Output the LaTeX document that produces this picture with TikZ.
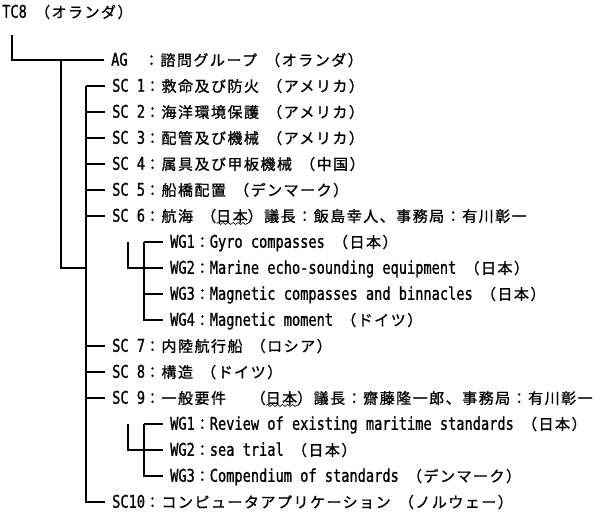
\documentclass[tikz,border=0pt]{standalone}
\usepackage{fontspec}
\usetikzlibrary{decorations.pathmorphing}
\newfontfamily\jpfont[LetterSpace=10,FakeBold=1]{Noto Sans CJK JP}
\newfontfamily\latfont[FakeStretch=0.78,FakeBold=1]{DejaVu Sans Mono}
\def\la#1{{\latfont\fontsize{17.5}{18}\selectfont #1}}
\def\hs{\hspace{8.2pt}}
\def\lbl#1{\makebox[32.8pt][l]{\la{#1}}：}
\def\wlbl#1{\makebox[24.6pt][l]{\la{#1}}：}
\def\wav#1{\setbox0\hbox{#1}\rlap{\raisebox{-3pt}{\tikz\draw[line width=0.6pt,decorate,decoration={snake,amplitude=1pt,segment length=5pt}] (0,0) -- (\wd0,0);}}\box0}
\tikzset{
	row/.style={anchor=west, inner xsep=7pt, inner ysep=0pt, text height=11.5pt, text depth=0pt, font=\jpfont\fontsize{15}{18}\selectfont},
	tree/.style={line width=1.1pt}
}

\begin{document}
\begin{tikzpicture}[x=1pt,y=-1pt]
		%%%%% START %%%%%
		\useasboundingbox (0,0) rectangle (600,516);
		
		\node[row, inner xsep=0pt] (tc8) at (2,12) {\la{TC8}\hs（オランダ）};
		\node[row] (ag) at (104,60) {\lbl{AG}諮問グループ\hs（オランダ）};
		
		\node[row] (sc1) at (105,86) {\lbl{SC 1}救命及び防火\hs（アメリカ）};
		\node[row] (sc2) at (105,112) {\lbl{SC 2}海洋環境保護\hs（アメリカ）};
		\node[row] (sc3) at (105,138) {\lbl{SC 3}配管及び機械\hs（アメリカ）};
		\node[row] (sc4) at (105,164) {\lbl{SC 4}属具及び甲板機械\hs（中国）};
		\node[row] (sc5) at (105,190) {\lbl{SC 5}船橋配置\hs（デンマーク）};
		\node[row] (sc6) at (105,216) {\lbl{SC 6}航海\hs（\wav{日本}）議長：飯島幸人、事務局：有川彰一};
		
		\node[row] (wg61) at (163,242) {\wlbl{WG1}\la{Gyro compasses}\hs（日本）};
		\node[row] (wg62) at (163,268) {\wlbl{WG2}\la{Marine echo-sounding equipment}\hs（日本）};
		\node[row] (wg63) at (163,294) {\wlbl{WG3}\la{Magnetic compasses and binnacles}\hs（日本）};
		\node[row] (wg64) at (163,320) {\wlbl{WG4}\la{Magnetic moment}\hs（ドイツ）};
		
		\node[row] (sc7) at (105,346) {\lbl{SC 7}内陸航行船\hs（ロシア）};
		\node[row] (sc8) at (105,372) {\lbl{SC 8}構造\hs（ドイツ）};
		\node[row] (sc9) at (105,398) {\lbl{SC 9}一般要件　\hs（\wav{日本}）議長：齋藤隆一郎、事務局：有川彰一};
		
		\node[row] (wg91) at (163,424) {\wlbl{WG1}\la{Review of existing maritime standards}\hs（日本）};
		\node[row] (wg92) at (163,450) {\wlbl{WG2}\la{sea trial}\hs（日本）};
		\node[row] (wg93) at (163,476) {\wlbl{WG3}\la{Compendium of standards}\hs（デンマーク）};
		
		\node[row] (sc10) at (105,502) {\lbl{SC10}コンピュータアプリケーション\hs（ノルウェー）};
		
		% tree
		\coordinate (tc8foot) at (12,35);
		\draw[tree] (tc8foot) |- (ag.west);
		\coordinate (agfork) at (61,60);
		\coordinate (scfork) at (86,268);
		\draw[tree] (agfork) |- (scfork);
		\coordinate (sctop) at (scfork |- sc1.west);
		\foreach \n in {sc1,sc2,sc3,sc4,sc5,sc6,sc7,sc8,sc9,sc10}
			\draw[tree] (sctop) |- (\n.west);
		
		\coordinate (wg6fork) at (128,242);
		\coordinate (wg6top) at (144,242);
		\draw[tree] (wg6fork) |- (wg6top |- wg62.west);
		\foreach \n in {wg61,wg62,wg63,wg64}
			\draw[tree] (wg6top) |- (\n.west);
		
		\coordinate (wg9fork) at (128,424);
		\coordinate (wg9top) at (144,424);
		\draw[tree] (wg9fork) |- (wg9top |- wg92.west);
		\foreach \n in {wg91,wg92,wg93}
			\draw[tree] (wg9top) |- (\n.west);
		%%%%% END %%%%%
\end{tikzpicture}
\end{document}
